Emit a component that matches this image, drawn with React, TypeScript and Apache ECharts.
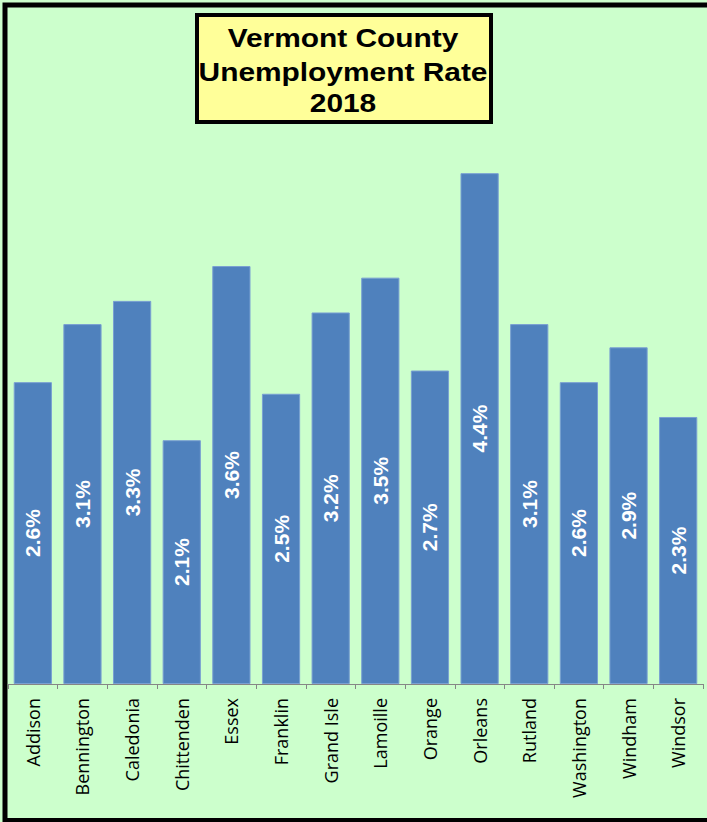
import React, { useEffect, useRef } from "react";
import * as echarts from "echarts";

const counties = [
  "Addison", "Bennington", "Caledonia", "Chittenden", "Essex", "Franklin", "Grand Isle",
  "Lamoille", "Orange", "Orleans", "Rutland", "Washington", "Windham", "Windsor",
];
const rates = [2.6, 3.1, 3.3, 2.1, 3.6, 2.5, 3.2, 3.5, 2.7, 4.4, 3.1, 2.6, 2.9, 2.3];
const titleLines = ["Vermont County", "Unemployment Rate", "2018"];

export default function App() {
  const ref = useRef<HTMLDivElement>(null);
  useEffect(() => {
    if (!ref.current) return;
    const chart = echarts.init(ref.current, undefined, { renderer: "svg" });
    const titleYs = [38, 72, 103];
    chart.setOption({
      animation: false,
      backgroundColor: "#CCFFCC",
      grid: { left: 8, right: 4, top: 103.5, bottom: 138, containLabel: false },
      xAxis: {
        type: "category",
        data: counties,
        axisLine: { lineStyle: { color: "#868686", width: 1 } },
        axisTick: { show: true, length: 5, lineStyle: { color: "#868686" } },
        axisLabel: {
          rotate: 90,
          margin: 14,
          color: "#000",
          fontFamily: "Open Sans",
          fontSize: 18,
          interval: 0,
        },
      },
      yAxis: {
        type: "value",
        min: 0,
        max: 5,
        show: false,
        splitLine: { show: false },
      },
      series: [
        {
          type: "bar",
          data: rates,
          barCategoryGap: "23%",
          itemStyle: { color: "#4F81BD", borderColor: "#7AA0D2", borderWidth: 1 },
          label: {
            show: true,
            position: "inside",
            rotate: 90,
            color: "#fff",
            fontWeight: "bold",
            fontFamily: "Liberation Sans, Arial",
            fontSize: 21,
            formatter: (p: any) => p.value.toFixed(1) + "%",
          },
        },
      ],
      graphic: [
        {
          type: "rect",
          shape: { x: 5, y: 5, width: 705, height: 815.5 },
          style: { fill: "none", stroke: "#000", lineWidth: 5 },
          silent: true,
        },
        {
          type: "rect",
          shape: { x: 197, y: 15, width: 294, height: 107 },
          style: { fill: "#FFFF99", stroke: "#000", lineWidth: 4 },
          z: 10,
        },
        ...titleLines.map((t, i) => ({
          type: "text",
          x: 343,
          y: titleYs[i],
          scaleX: 1.15,
          z: 11,
          style: {
            text: t,
            fill: "#000",
            font: "bold 26px 'Liberation Sans', Arial",
            align: "center",
            verticalAlign: "middle",
          },
        })),
      ],
    });
    return () => chart.dispose();
  }, []);
  return (
    <div
      ref={ref}
      style={{ position: "fixed", left: 0, top: 0, width: 707, height: 822 }}
    />
  );
}
